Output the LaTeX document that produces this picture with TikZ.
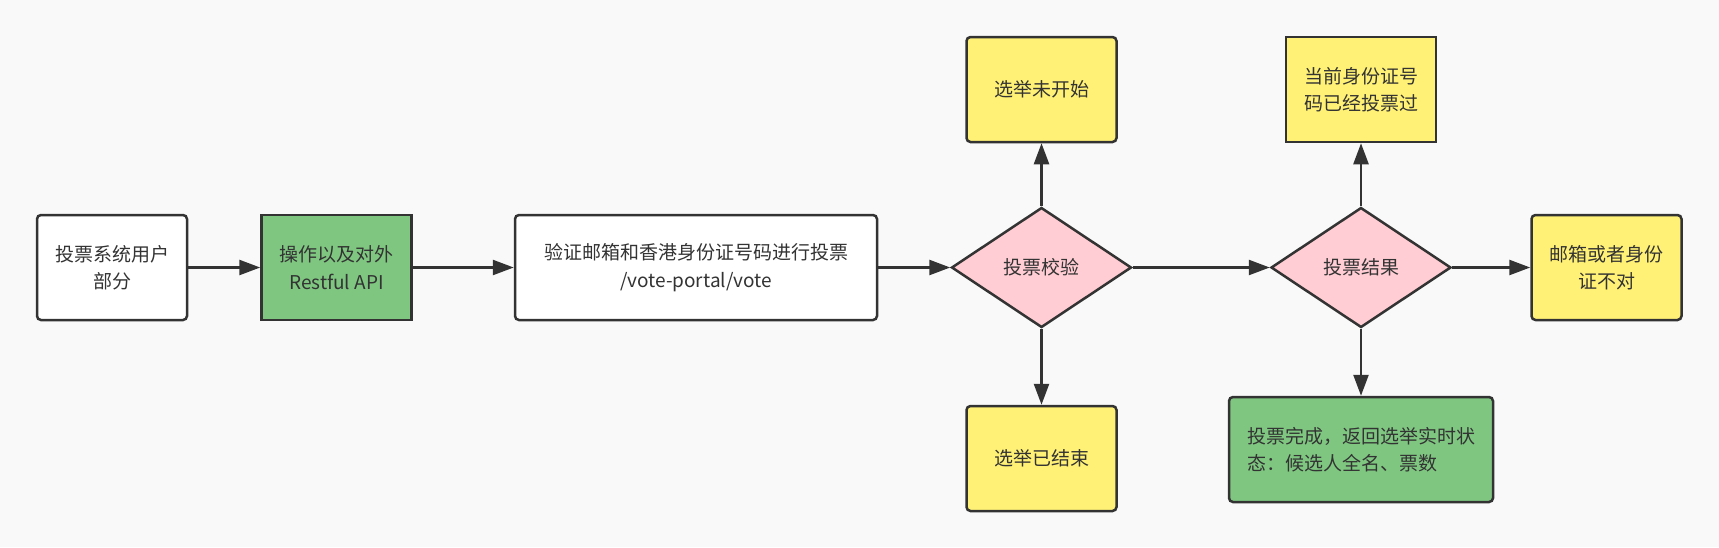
\documentclass[tikz,border=0pt]{standalone}
\usepackage{fontspec}
\setmainfont{Noto Sans CJK SC}
\usepackage{tikz}
\usetikzlibrary{arrows.meta,%
                shapes,positioning}
\definecolor{lineGray}{HTML}{333333}
\definecolor{boxYellow}{HTML}{FFF176}
\definecolor{boxGreen}{HTML}{7FC781}
\definecolor{boxPink}{HTML}{FFCDD3}
\definecolor{paper}{HTML}{F9F9F9}

\begin{document}
\begin{tikzpicture}[node distance   = 36pt,
                    font            = \fontsize{9.5}{13.7}\selectfont]
  \fill[paper] (0,0) rectangle (859.5pt,-273.5pt);
  \useasboundingbox (0,0) rectangle (859.5pt,-273.5pt);
  \tikzset{BoxStyle/.style     = {shape          = rectangle,
                                  rounded corners = 2pt,
                                  draw           = lineGray,
                                  line width     = 1.25pt,
                                  fill           = white,
                                  text           = lineGray,
                                  align          = center,
                                  inner sep      = 2pt,
                                  minimum width  = 75pt,
                                  minimum height = 52.5pt}}
  \tikzset{DecisionStyle/.style = {shape         = diamond,
                                  aspect         = 1.5,
                                  draw           = lineGray,
                                  line width     = 1.25pt,
                                  fill           = boxPink,
                                  text           = lineGray,
                                  inner sep      = 0pt,
                                  minimum width  = 90pt,
                                  minimum height = 60pt}}
  \tikzset{EdgeStyle/.style    = {draw           = lineGray,
                                  line width     = 1.25pt,
                                  -{Triangle[length=10.5pt,width=7.5pt]}}}
     \node[BoxStyle] (User) at (56pt,-133.75pt) {投票系统用户\\部分};
     \node[BoxStyle,fill=boxGreen,sharp corners,right=36pt of User] (Api) {操作以及对外\\Restful API};
     \node[BoxStyle,minimum width=181pt,right=50.5pt of Api] (Verify)
          {验证邮箱和香港身份证号码进行投票\\/vote-portal/vote};
     \node[DecisionStyle,right=36pt of Verify] (Check) {投票校验};
     \node[BoxStyle,fill=boxYellow,above=31.5pt of Check] (NotStart) {选举未开始};
     \node[BoxStyle,fill=boxYellow,below=38pt of Check] (Ended) {选举已结束};
     \node[DecisionStyle,right=68.5pt of Check] (Result) {投票结果};
     \node[BoxStyle,fill=boxYellow,sharp corners,above=31.5pt of Result] (Voted)
          {当前身份证号\\码已经投票过};
     \node[BoxStyle,fill=boxYellow,right=39pt of Result] (Wrong) {邮箱或者身份\\证不对};
     \node[BoxStyle,fill=boxGreen,minimum width=132pt,align=left,below=33.5pt of Result] (Done)
          {投票完成，返回选举实时状\\态：候选人全名、票数};

     \draw[EdgeStyle](User) to (Api);
     \draw[EdgeStyle](Api) to (Verify);
     \draw[EdgeStyle](Verify) to (Check);
     \draw[EdgeStyle](Check) to (NotStart);
     \draw[EdgeStyle](Check) to (Ended);
     \draw[EdgeStyle](Check) to (Result);
     \draw[EdgeStyle](Result) to (Voted);
     \draw[EdgeStyle](Result) to (Wrong);
     \draw[EdgeStyle](Result) to (Done);
  \end{tikzpicture}
\end{document}
